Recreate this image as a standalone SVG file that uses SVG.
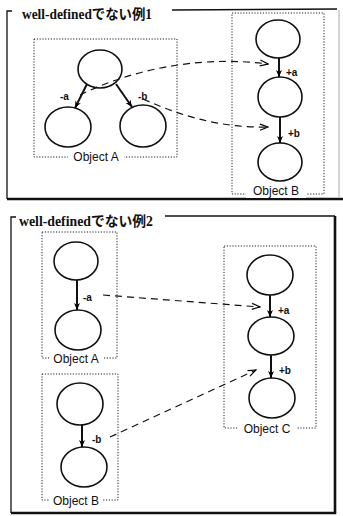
<svg xmlns="http://www.w3.org/2000/svg" width="343" height="516" viewBox="0 0 343 516">
<defs>
<marker id="solid" markerWidth="8" markerHeight="8" refX="7" refY="4" orient="auto" markerUnits="userSpaceOnUse">
<path d="M0,1 L7,4 L0,7 L2,4 Z" fill="#000"/>
</marker>
<marker id="open" markerWidth="10" markerHeight="8" refX="9" refY="4" orient="auto" markerUnits="userSpaceOnUse">
<path d="M1,1 L9,4 L1,7" fill="none" stroke="#000" stroke-width="1.2"/>
</marker>
</defs>
<style>
.frame{fill:none;stroke:#111;stroke-width:1.3}
.thick{fill:none;stroke:#111;stroke-width:2.6}
.title{font-family:"Liberation Serif","Noto Sans CJK JP",serif;font-weight:bold;font-size:14px;fill:#111}
.obj{fill:none;stroke:#222;stroke-width:1;stroke-dasharray:1.2,1.6}
.olabel{font-family:"Liberation Sans",Arial,sans-serif;font-size:12px;fill:#111}
.node{fill:#fff;stroke:#111;stroke-width:1.6}
.edge{fill:none;stroke:#111;stroke-width:2;marker-end:url(#solid)}
.dash{fill:none;stroke:#111;stroke-width:1.2;stroke-dasharray:7,5;marker-end:url(#open)}
.elabel{font-family:"Liberation Sans",Arial,sans-serif;font-weight:bold;font-size:10px;fill:#111}
.lbg{fill:#fff}
</style>

<g id="panel1">
<path class="frame" d="M12,11 L7,11 L7,199"/>
<path class="frame" d="M172,10 L337,9"/>
<path d="M339,10 L339,197" fill="none" stroke="#aaa" stroke-width="1"/>
<path class="thick" d="M7,199 L343,199"/>
<text class="title" x="22" y="19" textLength="130" lengthAdjust="spacingAndGlyphs">well-definedでない例1</text>
</g>

<g id="p1-objectA">
<rect class="obj" x="34" y="39" width="143" height="118"/>
<rect class="lbg" x="68" y="150" width="56" height="12"/>
<text class="olabel" x="96" y="161" text-anchor="middle">Object A</text>
</g>
<g id="p1-objectB">
<rect class="obj" x="232" y="13" width="92" height="181"/>
<rect class="lbg" x="246" y="184" width="60" height="14"/>
<text class="olabel" x="276" y="195" text-anchor="middle">Object B</text>
</g>

<g id="p1-a-top"><ellipse class="node" cx="100" cy="69" rx="22" ry="19"/></g>
<g id="p1-a-left"><ellipse class="node" cx="68" cy="127" rx="23" ry="20"/></g>
<g id="p1-a-right"><ellipse class="node" cx="143" cy="126" rx="23" ry="21"/></g>
<g id="p1-b-top"><ellipse class="node" cx="278" cy="39" rx="22" ry="19"/></g>
<g id="p1-b-mid"><ellipse class="node" cx="280" cy="97" rx="22" ry="20"/></g>
<g id="p1-b-bot"><ellipse class="node" cx="280" cy="162" rx="22" ry="19"/></g>

<g id="panel2">
<path class="frame" d="M16,217 L11,217 L11,513"/>
<path class="frame" d="M165,216 L335,216"/>
<path class="thick" d="M11,513 L335,513 L335,216"/>
<text class="title" x="19" y="226" textLength="134" lengthAdjust="spacingAndGlyphs">well-definedでない例2</text>
</g>

<g id="p2-objectA">
<rect class="obj" x="42" y="232" width="75" height="126"/>
<rect class="lbg" x="49" y="352" width="54" height="12"/>
<text class="olabel" x="76" y="363" text-anchor="middle">Object A</text>
</g>
<g id="p2-objectB">
<rect class="obj" x="42" y="374" width="76" height="126"/>
<rect class="lbg" x="49" y="494" width="54" height="12"/>
<text class="olabel" x="76" y="505" text-anchor="middle">Object B</text>
</g>
<g id="p2-objectC">
<rect class="obj" x="224" y="246" width="92" height="182"/>
<rect class="lbg" x="238" y="422" width="58" height="12"/>
<text class="olabel" x="267" y="433" text-anchor="middle">Object C</text>
</g>

<g id="p2-a-top"><ellipse class="node" cx="76" cy="261" rx="22" ry="19"/></g>
<g id="p2-a-bot"><ellipse class="node" cx="78" cy="330" rx="23" ry="20"/></g>
<g id="p2-b-top"><ellipse class="node" cx="80" cy="404" rx="23" ry="21"/></g>
<g id="p2-b-bot"><ellipse class="node" cx="84" cy="467" rx="23" ry="20"/></g>
<g id="p2-c-top"><ellipse class="node" cx="270" cy="275" rx="23" ry="20"/></g>
<g id="p2-c-mid"><ellipse class="node" cx="271" cy="336" rx="23" ry="19"/></g>
<g id="p2-c-bot"><ellipse class="node" cx="272" cy="398" rx="23" ry="20"/></g>

<g id="connectors">
<path class="edge" d="M87,84 L75,108"/>
<path class="edge" d="M116,84 L132,107"/>
<path class="edge" d="M279,58 L279,77"/>
<path class="edge" d="M280,117 L280,143"/>
<path class="dash" d="M80,95 C130,70 200,55 268,64"/>
<path class="dash" d="M143,99 C185,118 225,128 268,127"/>
<path class="edge" d="M77,280 L77,310"/>
<path class="edge" d="M82,425 L82,447"/>
<path class="edge" d="M270,295 L270,317"/>
<path class="edge" d="M271,355 L271,378"/>
<path class="dash" d="M103,295 L260,307"/>
<path class="dash" d="M110,437 L256,370"/>
<text class="elabel" x="60" y="100">-a</text>
<text class="elabel" x="138" y="100">-b</text>
<text class="elabel" x="286" y="76">+a</text>
<text class="elabel" x="288" y="137">+b</text>
<text class="elabel" x="83" y="301">-a</text>
<text class="elabel" x="92" y="443">-b</text>
<text class="elabel" x="278" y="314">+a</text>
<text class="elabel" x="279" y="374">+b</text>
</g>
</svg>
